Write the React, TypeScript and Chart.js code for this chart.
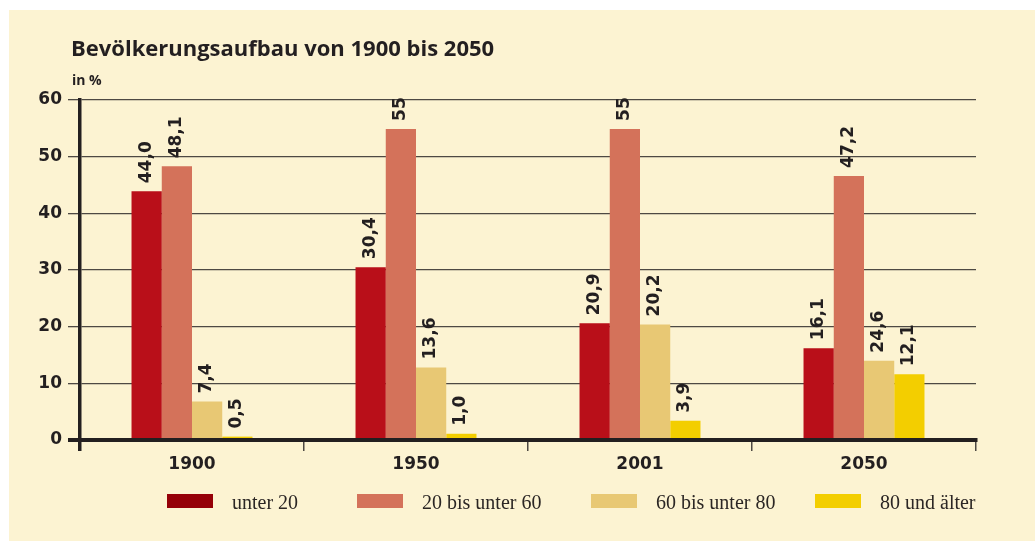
import React, { useEffect, useRef } from "react";
import { Chart, registerables } from "chart.js";

Chart.register(...registerables);

// ---- data ----
const categories = ["1900", "1950", "2001", "2050"];
const seriesNames = ["unter 20", "20 bis unter 60", "60 bis unter 80", "80 und älter"];

// bar heights as drawn in the picture
const under20 = [43.9, 30.5, 20.6, 16.2];
const from20to60 = [48.3, 54.9, 54.9, 46.6];
const from60to80 = [6.8, 12.8, 20.4, 14.0];
const from80 = [0.6, 1.1, 3.4, 11.6];

// value labels as printed above the bars
const under20Labels = ["44,0", "30,4", "20,9", "16,1"];
const from20to60Labels = ["48,1", "55", "55", "47,2"];
const from60to80Labels = ["7,4", "13,6", "20,2", "24,6"];
const from80Labels = ["0,5", "1,0", "3,9", "12,1"];

const yMin = 0;
const yMax = 60;
const yStep = 10;

const titleText = "Bevölkerungsaufbau von 1900 bis 2050";
const unitText = "in %";

// ---- styles ----
const BG = "#fcf3d2";
const TEXT = "#231f20";
const GRID = "#4d4943";
const barColors = ["#b90f19", "#d4725a", "#e8c874", "#f3ce00"];
const legendColors = ["#950008", "#d4725a", "#e8c874", "#f3ce00"];
const LEGEND_X = [158, 348, 582, 806];

const seriesValues = [under20, from20to60, from60to80, from80];
const seriesLabels = [under20Labels, from20to60Labels, from60to80Labels, from80Labels];

const W = 1026;
const H = 531;

const decorPlugin = {
  id: "decor",
  afterDatasetsDraw(chart: any) {
    const ctx = chart.ctx;
    chart.data.datasets.forEach((_ds: any, i: number) => {
      const meta = chart.getDatasetMeta(i);
      meta.data.forEach((bar: any, j: number) => {
        const text = seriesLabels[i][j];
        ctx.save();
        ctx.translate(bar.x + 4, bar.y - 8);
        ctx.rotate(-Math.PI / 2);
        ctx.font = "bold 17px 'DejaVu Sans'";
        ctx.fillStyle = TEXT;
        ctx.textAlign = "left";
        ctx.textBaseline = "alphabetic";
        ctx.fillText(text, 0, 0);
        ctx.restore();
      });
    });
  },
  afterDraw(chart: any) {
    const ctx = chart.ctx;
    ctx.save();
    ctx.fillStyle = TEXT;
    ctx.textAlign = "left";
    ctx.textBaseline = "alphabetic";
    ctx.font = "bold 22px 'Open Sans'";
    ctx.fillText(titleText, 62, 46);
    ctx.font = "bold 14px 'Open Sans'";
    ctx.fillText(unitText, 63, 75);
    // legend
    ctx.font = "20px 'Liberation Serif'";
    seriesNames.forEach((name, i) => {
      const x = LEGEND_X[i];
      ctx.fillStyle = legendColors[i];
      ctx.fillRect(x, 484, 46, 14);
      ctx.fillStyle = "#2b2624";
      ctx.fillText(name, x + 65, 499);
    });
    ctx.restore();
  },
};

export default function App() {
  const ref = useRef<HTMLCanvasElement | null>(null);

  useEffect(() => {
    if (!ref.current) return;
    const chart = new Chart(ref.current, {
      type: "bar",
      data: {
        labels: categories,
        datasets: seriesNames.map((name, i) => ({
          label: name,
          data: seriesValues[i],
          backgroundColor: barColors[i],
          borderWidth: 0,
          categoryPercentage: 0.54,
          barPercentage: 1,
        })),
      },
      options: {
        responsive: false,
        animation: false,
        devicePixelRatio: 1,
        layout: { padding: { top: 90, right: 59, left: 0, bottom: 0 } },
        plugins: {
          legend: { display: false },
          title: { display: false },
          tooltip: { enabled: false },
        },
        scales: {
          x: {
            z: 1,
            afterFit: (scale: any) => {
              scale.height = 101;
            },
            grid: {
              offset: true,
              drawOnChartArea: false,
              drawTicks: true,
              tickLength: 11,
              color: (c: any) => (c.index === 0 ? TEXT : GRID),
              lineWidth: (c: any) => (c.index === 0 ? 3.5 : 1.5),
            },
            border: { display: true, color: TEXT, width: 4 },
            ticks: {
              color: TEXT,
              padding: 3,
              font: { family: "DejaVu Sans", size: 17, weight: "bold" },
            },
          },
          y: {
            min: yMin,
            max: yMax,
            afterFit: (scale: any) => {
              scale.width = 71;
            },
            grid: {
              drawTicks: true,
              tickLength: 12,
              color: (c: any) => (c.tick && c.tick.value === 0 ? TEXT : GRID),
              lineWidth: (c: any) => (c.tick && c.tick.value === 0 ? 4 : 1.3),
            },
            border: { display: true, color: TEXT, width: 3.5 },
            ticks: {
              stepSize: yStep,
              color: TEXT,
              padding: 6,
              font: { family: "DejaVu Sans", size: 17, weight: "bold" },
            },
          },
        },
      },
      plugins: [decorPlugin],
    } as any);
    return () => chart.destroy();
  }, []);

  return (
    <div
      style={{
        position: "fixed",
        left: 9,
        top: 10,
        width: W,
        height: H,
        background: BG,
      }}
    >
      <canvas ref={ref} width={W} height={H} style={{ display: "block" }} />
    </div>
  );
}
